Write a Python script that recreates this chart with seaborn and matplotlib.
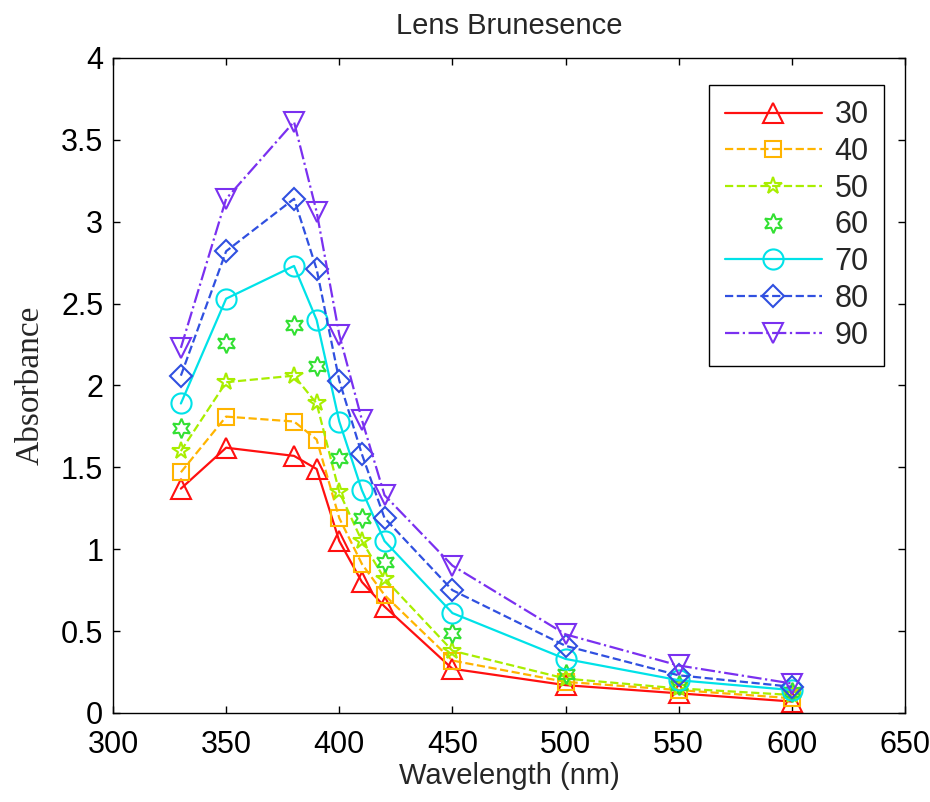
import numpy as np
import pandas as pd
import matplotlib
matplotlib.use('Agg')
import matplotlib.pyplot as plt
import seaborn as sns

# wavelengths (nm)
wavelength = [330, 350, 380, 390, 400, 410, 420, 450, 500, 550, 600]

# absorbance per age group
age30 = [1.37, 1.62, 1.57, 1.49, 1.05, 0.80, 0.65, 0.27, 0.17, 0.12, 0.07]
age40 = [1.47, 1.81, 1.78, 1.67, 1.19, 0.91, 0.72, 0.32, 0.19, 0.14, 0.09]
age50 = [1.60, 2.02, 2.06, 1.89, 1.35, 1.05, 0.82, 0.38, 0.21, 0.15, 0.11]
age60 = [1.74, 2.26, 2.37, 2.12, 1.56, 1.19, 0.92, 0.49, 0.24, 0.17, 0.13]
age70 = [1.89, 2.53, 2.73, 2.40, 1.78, 1.36, 1.05, 0.61, 0.33, 0.20, 0.14]
age80 = [2.06, 2.82, 3.14, 2.71, 2.03, 1.58, 1.19, 0.75, 0.41, 0.23, 0.16]
age90 = [2.23, 3.14, 3.61, 3.06, 2.31, 1.79, 1.33, 0.90, 0.48, 0.29, 0.18]

ages = ['30', '40', '50', '60', '70', '80', '90']
series = [age30, age40, age50, age60, age70, age80, age90]

# style per series
colors = ['#ff1010', '#ffb400', '#a8ee00', '#33e033', '#00e2e8', '#3050e0', '#7a30f0']
markers = ['^', 's', '*', (6, 1, 0), 'o', 'D', 'v']
msizes = [14, 11, 13, 14, 14.5, 11, 14]
lstyles = ['-', '--', '--', 'none', '-', '--', '-.']

df = pd.DataFrame({'wavelength': wavelength * len(ages),
                   'absorbance': np.concatenate(series),
                   'age': np.repeat(ages, len(wavelength))})

sns.set_style('ticks')
fig = plt.figure(figsize=(9.3, 8.02), dpi=100)
ax = fig.add_axes([0.1215, 0.111, 0.8516, 0.8167])

for i, a in enumerate(ages):
    sub = df[df.age == a]
    sns.lineplot(data=sub, x='wavelength', y='absorbance', ax=ax,
                 color=colors[i], marker=markers[i], markersize=msizes[i],
                 markerfacecolor='none', markeredgecolor=colors[i],
                 markeredgewidth=1.5, linestyle=lstyles[i], linewidth=1.6,
                 label=a)

ax.set_xlim(300, 650)
ax.set_ylim(0, 4)
ax.set_xticks(range(300, 651, 50))
ax.set_yticks(np.arange(0, 4.01, 0.5))
ax.set_yticklabels(['0', '0.5', '1', '1.5', '2', '2.5', '3', '3.5', '4'])
ax.tick_params(direction='in', top=True, right=True, labelsize=22, length=5,
               width=1, colors='black')
ax.tick_params(axis='x', pad=12)
ax.tick_params(axis='y', pad=7)
for s in ax.spines.values():
    s.set_linewidth(1)
    s.set_color('black')

ax.set_xlabel('Wavelength (nm)', fontsize=21, family='Liberation Sans', labelpad=2)
ax.set_ylabel('Absorbance', fontsize=24, family='Liberation Serif', labelpad=11)
ax.set_title('Lens Brunesence', fontsize=21, family='Liberation Sans', pad=17)
for t in ax.get_xticklabels() + ax.get_yticklabels():
    t.set_family('Liberation Sans')

leg = ax.legend(loc='upper right', handlelength=3.2, handletextpad=0.4, numpoints=1,
                frameon=True, fancybox=False, edgecolor='black',
                borderpad=0.5, labelspacing=0.22, borderaxespad=0,
                bbox_to_anchor=(0.9735, 0.9588),
                prop={'family': 'Liberation Sans', 'size': 22})
leg.get_frame().set_linewidth(1)
leg.get_frame().set_alpha(1)

fig.savefig('out.png', dpi=100)
